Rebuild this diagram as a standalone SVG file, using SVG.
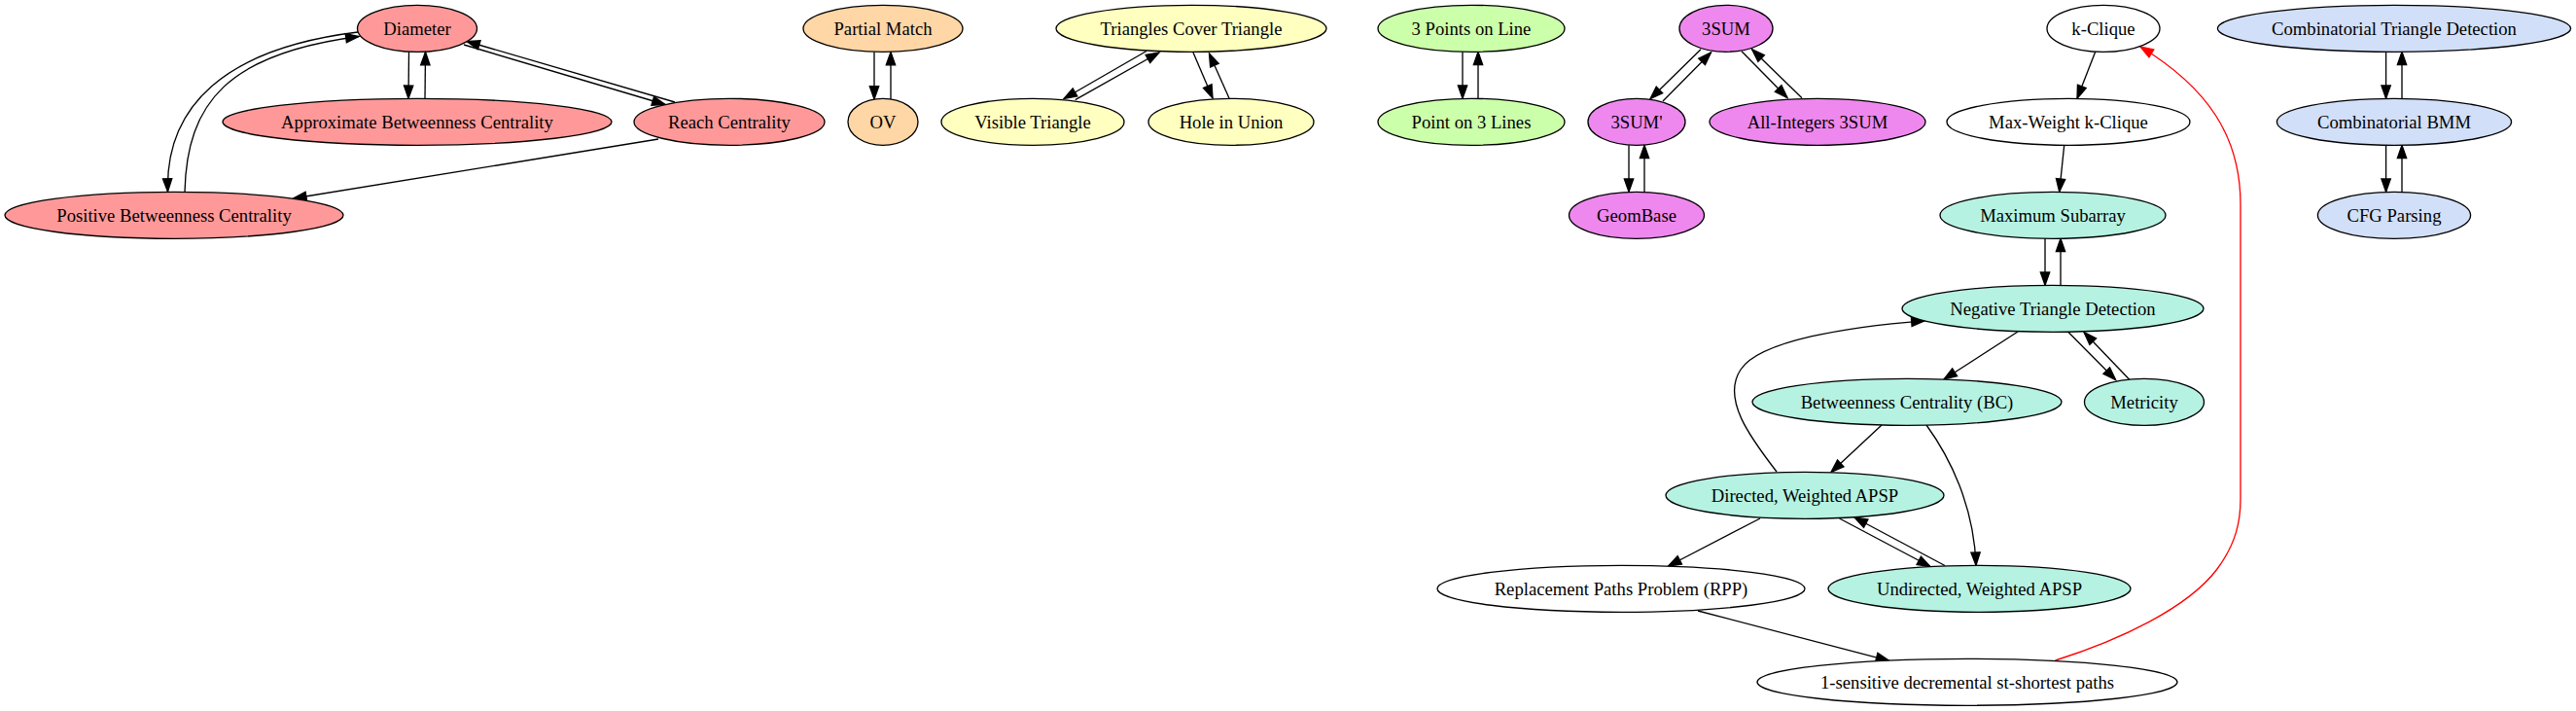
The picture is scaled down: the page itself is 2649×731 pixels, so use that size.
<svg xmlns="http://www.w3.org/2000/svg" width="2649" height="731" viewBox="0 0 2649 731">
<style>
.n ellipse{stroke:#000;stroke-width:1.33}
.n text{font-family:"Liberation Serif","Times New Roman",serif;font-size:18.67px;text-anchor:middle;fill:#000}
.r ellipse{fill:#ff9999}
.o ellipse{fill:#ffd6a5}
.y ellipse{fill:#ffffbf}
.g ellipse{fill:#ccffaa}
.p ellipse{fill:#ee88ee}
.t ellipse{fill:#b6f2e2}
.b ellipse{fill:#d2dff8}
.w ellipse{fill:#ffffff}
#edges path{fill:none;stroke:#000;stroke-width:1.33;marker-end:url(#ah)}
#edges path.red{stroke:#ff0000;marker-end:url(#ahr)}
</style>
<defs>
<marker id="ah" markerUnits="userSpaceOnUse" markerWidth="16" markerHeight="12" refX="13.3" refY="5" orient="auto" overflow="visible">
<path d="M0,0.33 L13.3,5 L0,9.67 Z" fill="#000" stroke="#000" stroke-width="1.33"/>
</marker>
<marker id="ahr" markerUnits="userSpaceOnUse" markerWidth="16" markerHeight="12" refX="13.3" refY="5" orient="auto" overflow="visible">
<path d="M0,0.33 L13.3,5 L0,9.67 Z" fill="#ff0000" stroke="#ff0000" stroke-width="1.33"/>
</marker>
</defs>
<rect width="2649" height="731" fill="#fff"/>
<g id="edges">
<path d="M420.5,53.5 L420,101.3"/>
<path d="M437,101.5 L437.5,53.5"/>
<path d="M477,46 L684,107.5"/>
<path d="M694,105 L480,42.5"/>
<path d="M368,33 C230,50 170,110 172.5,197"/>
<path d="M190,197.5 C192,105 235,55 369,37.5"/>
<path d="M677,143 L301.7,204"/>
<path d="M899,53.5 L899,102"/>
<path d="M916,102 L916,53.5"/>
<path d="M1179,52.5 L1094,101.5"/>
<path d="M1105.7,102.7 L1192,54"/>
<path d="M1227,54 L1247,100.8"/>
<path d="M1264,101 L1243.5,55"/>
<path d="M1504,53.3 L1504,101.3"/>
<path d="M1520,101.3 L1520,53.3"/>
<path d="M1749,50.7 L1697,101.7"/>
<path d="M1710,104 L1759.5,54"/>
<path d="M1791,52.7 L1838,100.5"/>
<path d="M1853,100.7 L1801.6,50.7"/>
<path d="M1675,149.3 L1675,197.3"/>
<path d="M1691,197.3 L1691,149.3"/>
<path d="M2154.6,53.5 L2136,101.3"/>
<path d="M2122.7,149.3 L2117.7,197.3"/>
<path d="M2103,245.3 L2103,293.3"/>
<path d="M2119,293.3 L2119,245.3"/>
<path d="M2075,341 L1999,390"/>
<path d="M2126.5,341 L2175.6,390.5"/>
<path d="M2190,390.5 L2143,341.5"/>
<path d="M1935,437 L1883,485.5"/>
<path d="M1981,437 C2005,470 2030,520 2032,581.3"/>
<path d="M1827,485 C1800,450 1770,410 1790,380 C1810,350 1900,336 1979,329.8"/>
<path d="M1810,533 L1715.5,582"/>
<path d="M1891.5,533 L1985,582.5"/>
<path d="M2000,581.5 L1907,532"/>
<path d="M1746,628 L1942.6,679.3"/>
<path class="red" d="M2113.5,679 C2180,658 2250,625 2280,585 C2300,558 2304,535 2304,513 L2304,210 C2304,140 2270,90 2201,48"/>
<path d="M2453.6,53.3 L2453.6,101.3"/>
<path d="M2470,101.3 L2470,53.3"/>
<path d="M2453.6,149.3 L2453.6,197.3"/>
<path d="M2470,197.3 L2470,149.3"/>
</g>
<g id="diameter" class="n r"><ellipse cx="429" cy="29.3" rx="61.5" ry="24"/><text x="429" y="35.8">Diameter</text></g>
<g id="approx-bc" class="n r"><ellipse cx="429" cy="125.3" rx="200" ry="24"/><text x="429" y="131.8">Approximate Betweenness Centrality</text></g>
<g id="reach" class="n r"><ellipse cx="750" cy="125.3" rx="98" ry="24"/><text x="750" y="131.8">Reach Centrality</text></g>
<g id="positive-bc" class="n r"><ellipse cx="179" cy="221.3" rx="174" ry="24"/><text x="179" y="227.8">Positive Betweenness Centrality</text></g>
<g id="partial-match" class="n o"><ellipse cx="908" cy="29.3" rx="82" ry="24"/><text x="908" y="35.8">Partial Match</text></g>
<g id="ov" class="n o"><ellipse cx="908" cy="125.3" rx="36" ry="24"/><text x="908" y="131.8">OV</text></g>
<g id="tct" class="n y"><ellipse cx="1225" cy="29.3" rx="139" ry="24"/><text x="1225" y="35.8">Triangles Cover Triangle</text></g>
<g id="visible" class="n y"><ellipse cx="1062" cy="125.3" rx="94" ry="24"/><text x="1062" y="131.8">Visible Triangle</text></g>
<g id="hole" class="n y"><ellipse cx="1266" cy="125.3" rx="85" ry="24"/><text x="1266" y="131.8">Hole in Union</text></g>
<g id="points3" class="n g"><ellipse cx="1513" cy="29.3" rx="96" ry="24"/><text x="1513" y="35.8">3 Points on Line</text></g>
<g id="lines3" class="n g"><ellipse cx="1513" cy="125.3" rx="96" ry="24"/><text x="1513" y="131.8">Point on 3 Lines</text></g>
<g id="sum3" class="n p"><ellipse cx="1775" cy="29.3" rx="48" ry="24"/><text x="1775" y="35.8">3SUM</text></g>
<g id="sum3p" class="n p"><ellipse cx="1683" cy="125.3" rx="50" ry="24"/><text x="1683" y="131.8">3SUM'</text></g>
<g id="allint" class="n p"><ellipse cx="1869" cy="125.3" rx="111" ry="24"/><text x="1869" y="131.8">All-Integers 3SUM</text></g>
<g id="geombase" class="n p"><ellipse cx="1683" cy="221.3" rx="69.5" ry="24"/><text x="1683" y="227.8">GeomBase</text></g>
<g id="kclique" class="n w"><ellipse cx="2163" cy="29.3" rx="58" ry="24"/><text x="2163" y="35.8">k-Clique</text></g>
<g id="mwkclique" class="n w"><ellipse cx="2127" cy="125.3" rx="125" ry="24"/><text x="2127" y="131.8">Max-Weight k-Clique</text></g>
<g id="maxsub" class="n t"><ellipse cx="2111" cy="221.3" rx="116" ry="24"/><text x="2111" y="227.8">Maximum Subarray</text></g>
<g id="ntd" class="n t"><ellipse cx="2111" cy="317.3" rx="155" ry="24"/><text x="2111" y="323.8">Negative Triangle Detection</text></g>
<g id="bc" class="n t"><ellipse cx="1961" cy="413.3" rx="159" ry="24"/><text x="1961" y="419.8">Betweenness Centrality (BC)</text></g>
<g id="metricity" class="n t"><ellipse cx="2205" cy="413.3" rx="61.5" ry="24"/><text x="2205" y="419.8">Metricity</text></g>
<g id="dapsp" class="n t"><ellipse cx="1856" cy="509.3" rx="143" ry="24"/><text x="1856" y="515.8">Directed, Weighted APSP</text></g>
<g id="rpp" class="n w"><ellipse cx="1667" cy="605.3" rx="189" ry="24"/><text x="1667" y="611.8">Replacement Paths Problem (RPP)</text></g>
<g id="uapsp" class="n t"><ellipse cx="2035.5" cy="605.3" rx="155.5" ry="24"/><text x="2035.5" y="611.8">Undirected, Weighted APSP</text></g>
<g id="sensitive" class="n w"><ellipse cx="2023" cy="701.3" rx="216" ry="24"/><text x="2023" y="707.8">1-sensitive decremental st-shortest paths</text></g>
<g id="ctd" class="n b"><ellipse cx="2462" cy="29.3" rx="181.6" ry="24"/><text x="2462" y="35.8">Combinatorial Triangle Detection</text></g>
<g id="cbmm" class="n b"><ellipse cx="2462" cy="125.3" rx="120.6" ry="24"/><text x="2462" y="131.8">Combinatorial BMM</text></g>
<g id="cfg" class="n b"><ellipse cx="2462" cy="221.3" rx="78.6" ry="24"/><text x="2462" y="227.8">CFG Parsing</text></g>
</svg>
